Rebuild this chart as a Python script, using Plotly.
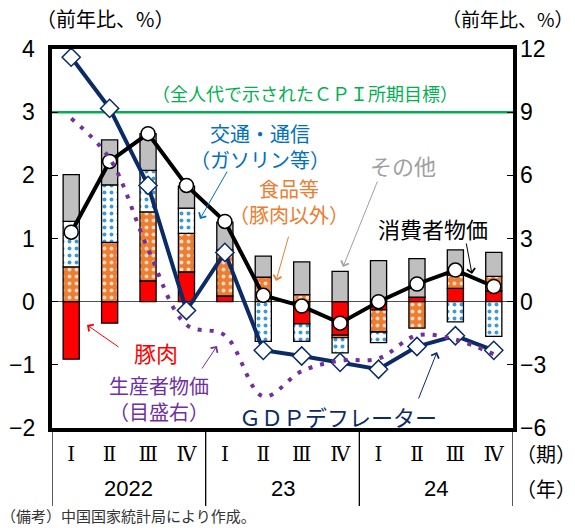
import plotly.graph_objects as go

# ---------------- data ----------------
quarters = ["Ⅰ", "Ⅱ", "Ⅲ", "Ⅳ", "Ⅰ", "Ⅱ", "Ⅲ", "Ⅳ", "Ⅰ", "Ⅱ", "Ⅲ", "Ⅳ"]
years = ["2022", "23", "24"]
left_ticks = [-2, -1, 0, 1, 2, 3, 4]

# contributions to CPI (left axis, %pt)
pork = [-0.91, -0.34, 0.33, 0.47, 0.09, 0.00, -0.35, -0.53, -0.13, 0.07, 0.21, 0.17]
food = [0.55, 0.94, 1.09, 0.61, 0.73, 0.39, 0.11, -0.04, -0.35, -0.42, 0.21, 0.23]
transport = [0.72, 0.91, 0.66, 0.40, 0.00, -0.63, -0.28, -0.24, -0.17, 0.00, -0.32, -0.55]
other = [0.74, 0.71, 0.58, 0.35, 0.44, 0.33, 0.52, 0.48, 0.65, 0.61, 0.40, 0.38]

cpi = [1.10, 2.22, 2.66, 1.84, 1.27, 0.10, -0.07, -0.34, 0.00, 0.28, 0.50, 0.24]
gdp_deflator = [3.87, 3.06, 1.84, -0.14, 0.78, -0.77, -0.86, -0.96, -1.07, -0.71, -0.54, -0.77]
ppi = [8.7, 6.8, 2.5, -1.1, -1.6, -4.5, -3.3, -2.8, -2.7, -1.6, -1.8, -2.5]  # right axis
cpi_target = 3.0

# ---------------- layout constants ----------------
W, H = 575, 528
L, R, T, B = 52, 513, 49, 428
JP = "Noto Sans CJK JP"
NUM = "Liberation Sans Narrow, Liberation Sans"
ROMAN = "DejaVu Serif, Noto Sans CJK JP"


def px(x):
    return (x - L) / (R - L)


def py(y):
    return (B - y) / (B - T)


xs = list(range(len(quarters)))
per_year = len(quarters) // len(years)

fig = go.Figure()
outline = dict(color="black", width=1.3)
bw = 0.42
fig.add_bar(x=xs, y=pork, width=bw, marker=dict(color="#FF0000", line=outline))
fig.add_bar(x=xs, y=food, width=bw,
            marker=dict(color="#ED7D31", line=outline,
                        pattern=dict(shape=".", bgcolor="#ED7D31", fgcolor="#FBD9C2",
                                     size=7, solidity=0.25, fillmode="replace")))
fig.add_bar(x=xs, y=transport, width=bw,
            marker=dict(color="white", line=outline,
                        pattern=dict(shape=".", bgcolor="white", fgcolor="#3A9BDC",
                                     size=7, solidity=0.25, fillmode="replace")))
fig.add_bar(x=xs, y=other, width=bw, marker=dict(color="#BFBFBF", line=outline))

fig.add_scatter(x=xs, y=gdp_deflator, mode="lines+markers",
                line=dict(color="#0B2A66", width=4),
                marker=dict(symbol="diamond", size=14, color="white",
                            line=dict(color="#0B2A66", width=1.5)))
fig.add_scatter(x=xs, y=cpi, mode="lines+markers",
                line=dict(color="black", width=4),
                marker=dict(symbol="circle", size=14, color="white",
                            line=dict(color="black", width=1.5)))
fig.add_scatter(x=xs, y=ppi, yaxis="y2", mode="lines",
                line=dict(color="#7030A0", width=4, dash="4px,8px", shape="spline"))

shapes = [dict(type="line", xref="paper", yref="y", x0=0, x1=1, y0=cpi_target, y1=cpi_target,
               line=dict(color="#00B050", width=2.5), layer="below")]
for k in range(len(years) + 1):
    xv = k * per_year - 0.5
    shapes.append(dict(type="line", xref="x", yref="paper", x0=xv, x1=xv, y0=0, y1=py(506),
                       line=dict(color="black", width=1.3)))

ann = []


def text(t, x, y, color="black", size=21, xanchor="center", family=JP):
    ann.append(dict(text=t, x=px(x), y=py(y), xref="paper", yref="paper", showarrow=False,
                    xanchor=xanchor, yanchor="middle", borderpad=0,
                    font=dict(family=family, size=size, color=color)))


def arrow(x0, y0, x1, y1, color):
    ann.append(dict(text="", x=px(x1), y=py(y1), xref="paper", yref="paper",
                    ax=x0 - x1, ay=y0 - y1, showarrow=True, arrowhead=4, arrowsize=1.6,
                    arrowwidth=1, arrowcolor=color))


text("（前年比、%）", 105, 19, size=20)
text("（前年比、%）", 508, 19, size=19)
text("（全人代で示されたＣＰＩ所期目標）", 305, 93, "#00B050", 18)
text("交通・通信<br>（ガソリン等）", 260, 146, "#0070C0", 20)
arrow(228, 170, 200, 219, "#0070C0")
text("食品等<br>（豚肉以外）", 289, 201, "#ED7D31", 20)
arrow(289, 235, 276, 281, "#ED7D31")
text("その他", 403, 165, "#A0A0A0", 22)
arrow(378, 180, 343, 267, "#A0A0A0")
text("消費者物価", 433, 228, "black", 22)
arrow(466, 242, 472, 274, "black")
text("豚肉", 156, 352, "#FF0000", 22)
arrow(120, 348, 87, 325, "#FF0000")
text("生産者物価<br>（目盛右）", 159, 398, "#7030A0", 20)
arrow(201, 370, 217, 346, "#7030A0")
text("ＧＤＰデフレーター", 338, 416, "#0B2A66", 22)
arrow(418, 400, 437, 352, "#0B2A66")
text("（期）", 546, 453, "black", 20)
text("（年）", 546, 488, "black", 20)
text("（備考）中国国家統計局により作成。", 0, 515, "#333333", 15, "left")

# left-axis tick labels, right-aligned beside the axis
for v in left_ticks:
    ann.append(dict(text=str(v).replace("-", "−"), x=px(37), y=v, xref="paper", yref="y",
                    showarrow=False, xanchor="right", yanchor="middle",
                    font=dict(family=NUM, size=23, color="black")))

for i, yr in enumerate(years):
    ann.append(dict(text=yr, x=i * per_year + (per_year - 1) / 2, y=py(488), xref="x", yref="paper",
                    showarrow=False, xanchor="center", yanchor="middle",
                    font=dict(family=NUM, size=22, color="black")))

fig.update_layout(
    width=W, height=H,
    margin=dict(l=L, r=W - R, t=T, b=H - B, pad=0),
    barmode="relative",
    showlegend=False,
    plot_bgcolor="white", paper_bgcolor="white",
    font=dict(family=JP, size=20, color="black"),
    shapes=shapes, annotations=ann,
    xaxis=dict(range=[-0.5, len(quarters) - 0.5], tickvals=xs, ticktext=quarters,
               showline=True, linecolor="black", linewidth=4, mirror=True,
               ticks="", showgrid=False, zeroline=False,
               tickfont=dict(family=ROMAN, size=20), ticklabelstandoff=5),
    yaxis=dict(range=[left_ticks[0], left_ticks[-1]], tickvals=left_ticks, showticklabels=False,
               ticks="inside", ticklen=6, tickwidth=1.3, tickcolor="black",
               showline=True, linecolor="black", linewidth=4, mirror=True,
               showgrid=False, zeroline=True, zerolinecolor="#505050", zerolinewidth=1.2,
               automargin=False),
    yaxis2=dict(range=[-6, 12], dtick=3, overlaying="y", side="right", ticks="inside", ticklen=6,
                tickwidth=1.3, tickcolor="black", showline=False, showgrid=False, zeroline=False,
                tickfont=dict(family=NUM, size=23), ticklabelstandoff=6, automargin=False),
)

fig.write_html("out.html", config={"displayModeBar": False},
               post_script="document.body.style.margin='0';document.body.style.overflow='hidden';")
